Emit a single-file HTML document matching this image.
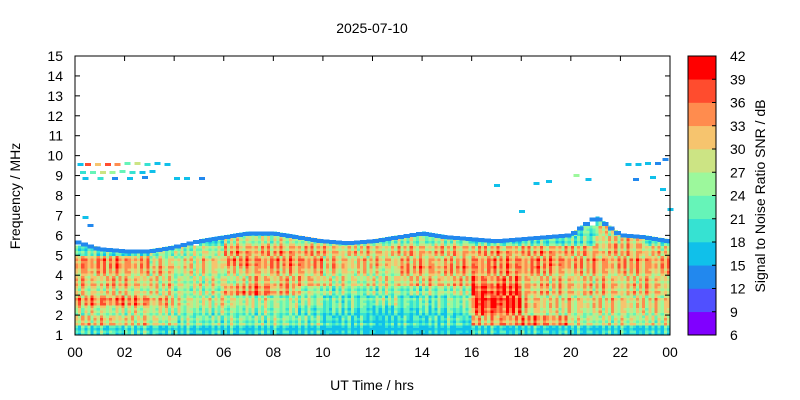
<!DOCTYPE html>
<html><head><meta charset="utf-8"><style>
body{margin:0;background:#fff;}
svg{display:block;font-family:"Liberation Sans",sans-serif;}
</style></head><body>
<svg id="chart" width="800" height="400" viewBox="0 0 800 400">
<text x="372" y="33" text-anchor="middle" font-size="14">2025-07-10</text>
<g id="cells" shape-rendering="crispEdges"></g>
<g id="axes"></g>
<g id="cbar"></g>
<text x="372" y="390" text-anchor="middle" font-size="14">UT Time / hrs</text>
<text transform="translate(20,196) rotate(-90)" text-anchor="middle" font-size="14">Frequency / MHz</text>
<text transform="translate(765,196) rotate(-90)" text-anchor="middle" font-size="14">Signal to Noise Ratio SNR / dB</text>
</svg>
<script>
// ---- data ----
const hours = [0,1,2,3,4,5,6,7,8,9,10,11,12,13,14,15,16,17,18,19,20,21,22,23];
const freqRows = [1.0,1.5,2.0,2.5,3.0,3.5,4.0,4.5,5.0,5.5,6.0,6.5];
const snrGrid = [
 [20,20,20,19,18,18,18,18,18,17,16,16,15,16,16,16,18,18,18,18,18,18,18,18],
 [30,30,29,28,24,24,24,24,24,23,20,20,18,20,20,21,31,33,34,33,27,27,27,27],
 [27,27,27,27,25,24,24,24,24,21,21,20,18,20,20,22,36,36,29,28,28,28,28,28],
 [33,34,33,31,27,27,27,26,25,25,22,22,24,22,22,24,38,38,30,29,29,29,29,29],
 [28,29,28,28,26,26,33,34,31,26,24,24,24,24,25,26,37,37,31,30,30,30,30,30],
 [30,31,30,29,27,27,28,31,31,31,28,28,28,30,30,31,34,34,31,30,30,30,30,30],
 [32,32,31,30,28,28,29,31,31,31,29,29,27,32,32,32,33,33,33,31,31,31,31,31],
 [33,33,32,28,28,29,33,33,33,33,30,30,30,31,31,31,33,33,33,33,32,32,32,32],
 [22,20,20,24,25,27,32,32,32,32,30,30,30,31,31,31,32,32,32,32,31,31,31,30],
 [0,0,0,0,0,20,27,27,27,27,24,24,24,25,25,25,22,22,22,22,22,30,30,22],
 [0,0,0,0,0,0,18,20,20,18,0,0,0,0,17,0,0,0,0,0,22,28,18,0],
 [0,0,0,0,0,0,0,0,0,0,0,0,0,0,0,0,0,0,0,0,0,22,0,0]
];
const cutoffTimes = [0,1,2,3,4,5,6,7,8,9,10,11,12,13,14,15,16,17,18,19,20,21,22,23,24];
const cutoffFreqs = [5.8,5.4,5.3,5.3,5.5,5.8,6.0,6.2,6.2,6.0,5.8,5.7,5.8,6.0,6.2,6.0,5.9,5.8,5.9,6.0,6.1,7.0,6.1,6.0,5.8];
const sparseTimes = [0.1,0.4,0.8,1.2,1.6,2.0,2.4,2.8,3.2,3.6,0.2,0.6,1.0,1.4,1.8,2.2,2.6,3.0,0.3,0.9,1.5,2.1,2.7,4.0,4.4,5.0,22.2,22.6,23.0,23.4,23.7,22.5,23.2,16.9,17.9,18.5,19.0,20.1,20.6,23.6,23.9,0.5,0.3];
const sparseFreqs = [9.55,9.55,9.55,9.55,9.55,9.6,9.6,9.55,9.6,9.55,9.15,9.15,9.15,9.15,9.2,9.15,9.15,9.2,8.85,8.85,8.85,8.85,8.9,8.85,8.85,8.85,9.55,9.55,9.6,9.6,9.8,8.8,8.9,8.5,7.2,8.6,8.7,9.0,8.8,8.3,7.3,6.5,6.9];
const sparseSnr = [15,36,30,36,33,21,27,18,15,15,18,21,27,24,21,18,15,15,15,18,12,15,12,15,15,12,15,15,15,12,12,12,15,15,15,15,15,24,15,15,15,12,15];
const cbarTicks = [6,9,12,15,18,21,24,27,30,33,36,39,42];
const bandColors = ["#8000ff","#5050ff","#2288ee","#10c0ea","#36e2d2","#66f4b8","#9cf89c","#cce484","#f6c46e","#ff8c4e","#ff4c2e","#ff0000"];
// rendering texture (styling only): vertical streak jitter and horizontal stripe jitter in dB
const colTex = [0,-4,3,-2,4,-5,2,-3,5,-1,-4,2,1,-3];
const rowTex = [0,2,-2,1];
// ---- scales ----
const X0=75,X1=670,Y0=335,Y1=56;
const xs=t=>X0+(X1-X0)*t/24;
const ys=f=>Y0-(Y0-Y1)*(f-1)/14;
const col=v=>bandColors[Math.max(0,Math.min(11,Math.floor((v-6)/3)))];
const cellCol=v=>bandColors[Math.max(3,Math.min(11,Math.floor((v-6)/3)))];
const NS="http://www.w3.org/2000/svg";
function mk(tag,attrs,parent){const e=document.createElementNS(NS,tag);for(const k in attrs)e.setAttribute(k,attrs[k]);parent.appendChild(e);return e;}
function cutAt(t){for(let i=0;i<cutoffTimes.length-1;i++){if(t<=cutoffTimes[i+1]){const a=(t-cutoffTimes[i])/(cutoffTimes[i+1]-cutoffTimes[i]);return cutoffFreqs[i]+a*(cutoffFreqs[i+1]-cutoffFreqs[i]);}}return cutoffFreqs[cutoffFreqs.length-1];}
const cells=document.getElementById('cells');
const sub=8, vsub=4;
for(let r=0;r<freqRows.length;r++){
 for(let c=0;c<hours.length;c++){
  const v=snrGrid[r][c]; if(!v) continue;
  for(let s=0;s<sub;s++){
   const t0=hours[c]+s/sub, t1=t0+1/sub;
   const cut=cutAt(t0+0.5/sub);
   const cj=colTex[(c*sub+s+(r>>1)*3)%colTex.length];
   for(let q=0;q<vsub;q++){
    const fb=freqRows[r]+q*0.5/vsub; let ft=fb+0.5/vsub;
    if(fb>=cut) continue;
    if(ft>cut) ft=cut;
    const j=cj+rowTex[(q+r)%rowTex.length];
    const e=mk('rect',{x:xs(t0),y:ys(ft),width:xs(t1)-xs(t0)+0.6,height:ys(fb)-ys(ft)+0.6,fill:cellCol(v+j)},cells);
    
    
   }
  }
 }
}
for(let i=0;i<96;i++){
 const t0=i/4,cut=cutAt(t0+0.125);
 const e=mk('rect',{x:xs(t0),y:ys(cut),width:xs(0.25)-xs(0)+0.5,height:4,fill:col(13)},cells);
 
 
}
for(let i=0;i<sparseTimes.length;i++){
 const e=mk('rect',{x:xs(sparseTimes[i]),y:ys(sparseFreqs[i])-1.5,width:6,height:3,fill:col(sparseSnr[i])},cells);
 
 
}
const ax=document.getElementById('axes');
mk('rect',{x:X0,y:Y1,width:X1-X0,height:Y0-Y1,fill:'none',stroke:'#000','stroke-width':1},ax);
for(let h=0;h<=24;h+=2){
 const x=xs(h);
 mk('line',{x1:x,y1:Y0,x2:x,y2:Y0-5,stroke:'#000'},ax);
 mk('line',{x1:x,y1:Y1,x2:x,y2:Y1+5,stroke:'#000'},ax);
 const t=mk('text',{x:x,y:Y0+22,'text-anchor':'middle','font-size':14},ax);
 t.textContent=String(h%24).padStart(2,'0');
 
 
}
for(let f=1;f<=15;f++){
 const y=ys(f);
 mk('line',{x1:X0,y1:y,x2:X0+5,y2:y,stroke:'#000'},ax);
 mk('line',{x1:X1,y1:y,x2:X1-5,y2:y,stroke:'#000'},ax);
 const t=mk('text',{x:X0-12,y:y+5,'text-anchor':'end','font-size':14},ax);
 t.textContent=f;
 
 
}
const cb=document.getElementById('cbar');
const CX=688,CW=28;
const cy=v=>Y0-(Y0-Y1)*(v-6)/36;
for(let i=0;i<bandColors.length;i++){
 const e=mk('rect',{x:CX,y:cy(cbarTicks[i+1]),width:CW,height:cy(cbarTicks[i])-cy(cbarTicks[i+1])+0.3,fill:bandColors[i]},cb);
 
 
}
mk('rect',{x:CX,y:Y1,width:CW,height:Y0-Y1,fill:'none',stroke:'#000'},cb);
cbarTicks.forEach(v=>{
 const y=cy(v);
 mk('line',{x1:CX+CW-4,y1:y,x2:CX+CW,y2:y,stroke:'#000'},cb);
 const t=mk('text',{x:CX+CW+14,y:y+5,'font-size':14},cb);
 t.textContent=v;
 
 
});
</script>
</body></html>
